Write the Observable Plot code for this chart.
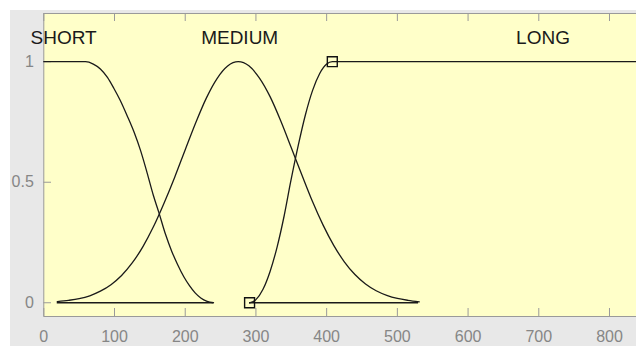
<!DOCTYPE html>
<html><head><meta charset="utf-8">
<script src="https://cdn.jsdelivr.net/npm/d3@7"></script>
<script src="https://cdn.jsdelivr.net/npm/@observablehq/plot@0.6"></script>
<style>
html,body{margin:0;padding:0;background:#fff;}
#wrap{position:relative;width:636px;height:346px;overflow:hidden;}
#bg{position:absolute;left:10px;top:10px;right:0;bottom:0;background:#e8e8e8;}
#chart{position:absolute;left:0;top:0;}
</style></head><body>
<div id="wrap"><div id="bg"></div><div id="chart"></div></div>
<script>
// Membership function names and label positions (data units)
const mfNames = ["SHORT", "MEDIUM", "LONG"];
const labelX = [28, 277, 706];
const labelY = [1.1, 1.1, 1.1];

// SHORT (Z-shaped)
const shortX = [0, 59, 70, 80, 90, 99, 108, 118, 128, 137, 146, 155, 163, 172, 181, 189, 198, 206, 214, 222, 231, 240];
const shortY = [1, 1, 0.99, 0.97, 0.935, 0.89, 0.84, 0.775, 0.705, 0.63, 0.54, 0.445, 0.372, 0.285, 0.213, 0.16, 0.108, 0.071, 0.041, 0.02, 0.006, 0];

// MEDIUM (bell)
const mediumX = [19, 35, 50, 65, 80, 95, 110, 125, 140, 155, 170, 185, 200, 215, 230, 245, 260, 275, 290, 305, 320, 335, 350, 365, 380, 395, 410, 425, 440, 455, 470, 485, 500, 515, 531];
const mediumY = [0.005, 0.01, 0.017, 0.029, 0.048, 0.075, 0.113, 0.165, 0.232, 0.315, 0.413, 0.52, 0.635, 0.748, 0.85, 0.93, 0.982, 1, 0.983, 0.932, 0.855, 0.755, 0.643, 0.53, 0.42, 0.322, 0.238, 0.17, 0.117, 0.078, 0.05, 0.031, 0.018, 0.01, 0.004];

// LONG (S-shaped)
const longX = [291, 300, 310, 320, 330, 340, 349, 360, 370, 380, 390, 400, 408, 839];
const longY = [0, 0.013, 0.056, 0.13, 0.232, 0.362, 0.5, 0.655, 0.78, 0.88, 0.95, 0.99, 1, 1];

// Square markers on LONG
const markerX = [291, 408];
const markerY = [0, 1];

// Zero baselines
const baseStart = [19, 291];
const baseEnd = [240, 530];

// Ticks
const xTicks = [0, 100, 200, 300, 400, 500, 600, 700, 800];
const yTicks = [0, 0.5, 1];

const rows = (xs, ys, name) => xs.map((x, i) => ({x, y: ys[i], mf: name}));
const curves = [
  ...rows(shortX, shortY, "SHORT"),
  ...rows(mediumX, mediumY, "MEDIUM"),
  ...rows(longX, longY, "LONG")
];
const markers = markerX.map((x, i) => ({x, y: markerY[i]}));
const baselines = baseStart.map((s, i) => ({start: s, end: baseEnd[i], y: 0}));
const labels = mfNames.map((n, i) => ({name: n, x: labelX[i], y: labelY[i]}));

const axisColor = "#9a9a9a";
const plot = Plot.plot({
  width: 636,
  height: 346,
  marginLeft: 43.3,
  marginRight: -1,
  marginTop: 13,
  marginBottom: 30,
  style: {background: "transparent", fontFamily: "'Liberation Sans', Arial, sans-serif", overflow: "hidden"},
  x: {domain: [0, 839.6], label: null},
  y: {domain: [-0.057, 1.2], label: null},
  marks: [
    Plot.frame({fill: "#ffffc9", stroke: axisColor}),
    Plot.gridX(xTicks, {stroke: axisColor, strokeOpacity: 1, insetTop: 295}),
    Plot.gridX(xTicks, {stroke: axisColor, strokeOpacity: 1, insetBottom: 295}),
    Plot.gridY(yTicks, {stroke: axisColor, strokeOpacity: 1, insetRight: 586}),
    Plot.axisX(xTicks, {tickSize: 0, tickPadding: 14, fontSize: 16, color: "#868686", label: null, tickFormat: d => String(d)}),
    Plot.axisY(yTicks, {tickSize: 0, tickPadding: 10, fontSize: 16, color: "#868686", label: null, tickFormat: d => String(d)}),
    Plot.ruleY(baselines, {y: "y", x1: "start", x2: "end", stroke: "#1a1a1a", strokeWidth: 1.3}),
    Plot.line(curves, {x: "x", y: "y", z: "mf", stroke: "#1a1a1a", strokeWidth: 1.3, curve: "monotone-x"}),
    Plot.dot(markers, {x: "x", y: "y", symbol: "square", r: 5.6, stroke: "#111", strokeWidth: 1.4, fill: "none"}),
    Plot.text(labels, {x: "x", y: "y", text: "name", fontSize: 19, fill: "#1a1a1a"})
  ]
});
document.getElementById("chart").appendChild(plot);
</script>
</body></html>
